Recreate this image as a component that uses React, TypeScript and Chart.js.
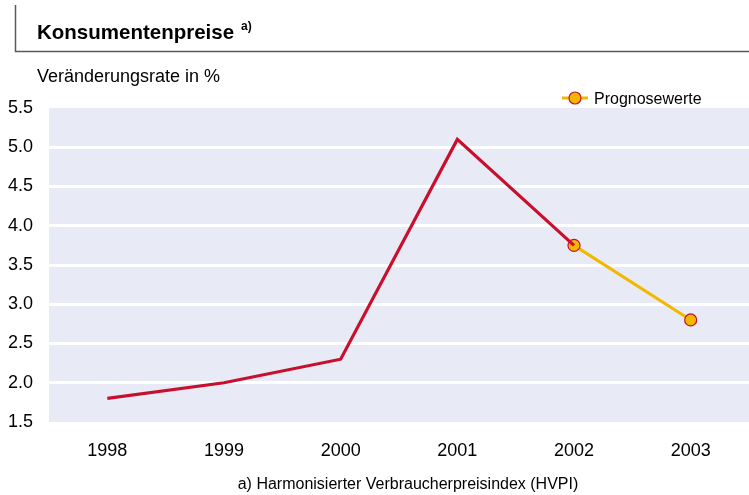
import React, { useEffect, useRef } from "react";
import { Chart, registerables } from "chart.js";

Chart.register(...registerables);

const categories = ["1998", "1999", "2000", "2001", "2002", "2003"];
const actualValues = [1.8, 2.0, 2.3, 5.1, 3.75, null];
const forecastValues = [null, null, null, null, 3.75, 2.8];
const yTicks = [1.5, 2.0, 2.5, 3.0, 3.5, 4.0, 4.5, 5.0, 5.5];

const TITLE = "Konsumentenpreise";
const TITLE_SUP = "a)";
const Y_LABEL = "Veränderungsrate in %";
const LEGEND_LABEL = "Prognosewerte";
const FOOTNOTE = "a) Harmonisierter Verbraucherpreisindex (HVPI)";

const RED = "#C8102E";
const YELLOW = "#F2B800";
const PLOT_BG = "#E8EBF5";
const FONT = "'Liberation Sans', Arial, Helvetica, sans-serif";

const decorPlugin = {
  id: "decor",
  beforeDraw(chart: any) {
    const { ctx, chartArea } = chart;
    ctx.save();
    ctx.fillStyle = PLOT_BG;
    ctx.fillRect(chartArea.left, chartArea.top, chartArea.right - chartArea.left, chartArea.bottom - chartArea.top);
    ctx.restore();
  },
  afterDraw(chart: any) {
    const { ctx } = chart;
    ctx.save();
    // frame
    ctx.strokeStyle = "#5a5a5a";
    ctx.lineWidth = 1.5;
    ctx.beginPath();
    ctx.moveTo(15.5, 5);
    ctx.lineTo(15.5, 51.5);
    ctx.lineTo(749, 51.5);
    ctx.stroke();
    // title
    ctx.fillStyle = "#000";
    ctx.textBaseline = "alphabetic";
    ctx.textAlign = "left";
    ctx.font = `bold 20.5px ${FONT}`;
    ctx.fillText(TITLE, 37, 39);
    const w = ctx.measureText(TITLE).width;
    ctx.font = `bold 12px ${FONT}`;
    ctx.fillText(TITLE_SUP, 37 + w + 7, 30);
    // y label
    ctx.font = `18px ${FONT}`;
    ctx.fillText(Y_LABEL, 37, 82);
    // legend
    ctx.strokeStyle = YELLOW;
    ctx.lineWidth = 3;
    ctx.beginPath();
    ctx.moveTo(562, 98);
    ctx.lineTo(588, 98);
    ctx.stroke();
    ctx.beginPath();
    ctx.arc(575, 98, 6, 0, Math.PI * 2);
    ctx.fillStyle = YELLOW;
    ctx.fill();
    ctx.strokeStyle = RED;
    ctx.lineWidth = 1.2;
    ctx.stroke();
    ctx.fillStyle = "#000";
    ctx.font = `16px ${FONT}`;
    ctx.fillText(LEGEND_LABEL, 594, 104);
    // footnote
    ctx.textAlign = "center";
    ctx.font = `16px ${FONT}`;
    ctx.fillText(FOOTNOTE, 408, 489);
    ctx.restore();
  },
};

export default function App() {
  const ref = useRef<HTMLCanvasElement | null>(null);
  useEffect(() => {
    if (!ref.current) return;
    const chart = new Chart(ref.current, {
      type: "line",
      data: {
        labels: categories,
        datasets: [
          {
            label: "Ist",
            data: actualValues,
            borderColor: RED,
            borderWidth: 3.2,
            pointRadius: 0,
            tension: 0,
            spanGaps: false,
          },
          {
            label: LEGEND_LABEL,
            data: forecastValues,
            borderColor: YELLOW,
            borderWidth: 3,
            pointRadius: 6,
            pointBackgroundColor: YELLOW,
            pointBorderColor: RED,
            pointBorderWidth: 1.2,
            tension: 0,
          },
        ],
      },
      options: {
        animation: false,
        responsive: false,
        devicePixelRatio: 1,
        layout: { autoPadding: false, padding: { top: 108, left: 0, right: 0, bottom: 0 } },
        plugins: { legend: { display: false }, tooltip: { enabled: false } },
        scales: {
          x: {
            offset: true,
            grid: { display: false, drawTicks: false },
            border: { display: false },
            ticks: { color: "#000", font: { family: FONT, size: 18 }, padding: 18 },
            afterFit(scale: any) {
              scale.height = 73;
              scale.paddingLeft = 0;
              scale.paddingRight = 0;
            },
          },
          y: {
            min: 1.5,
            max: 5.5,
            afterBuildTicks(scale: any) {
              scale.ticks = yTicks.map((v) => ({ value: v }));
            },
            grid: {
              drawTicks: false,
              lineWidth: 3,
              color: (c: any) =>
                c.tick && (c.tick.value === 1.5 || c.tick.value === 5.5) ? "rgba(0,0,0,0)" : "#ffffff",
            },
            border: { display: false },
            ticks: {
              color: "#000",
              font: { family: FONT, size: 18 },
              padding: 16,
              callback: (v: any) => Number(v).toFixed(1),
            },
            afterFit(scale: any) {
              scale.width = 49;
            },
          },
        },
      },
      plugins: [decorPlugin],
    });
    return () => chart.destroy();
  }, []);
  return (
    <div style={{ position: "fixed", left: 0, top: 0, width: 749, height: 495, background: "#fff" }}>
      <canvas ref={ref} width={749} height={495} style={{ width: 749, height: 495, display: "block" }} />
    </div>
  );
}
